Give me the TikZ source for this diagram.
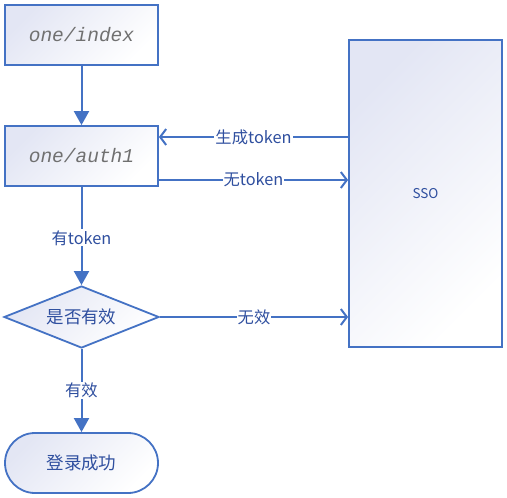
\documentclass[tikz,border=0pt]{standalone}
\usepackage{fontspec}
\newfontfamily\cjk{Noto Sans CJK SC}
\newfontfamily\monoit{Liberation Mono}
\usetikzlibrary{arrows.meta,shapes.geometric}
\definecolor{lineblue}{HTML}{4472C4}
\definecolor{textblue}{HTML}{2F4F9F}
\definecolor{shadetop}{HTML}{E3E6F4}
\definecolor{greytext}{HTML}{707070}
\tikzset{
  x=1pt,y=-1pt,
  boxshade/.style={top color=shadetop,bottom color=white,shading angle=45,draw=lineblue,line width=1.8pt},
  procbox/.style={boxshade,rectangle,minimum width=153pt,minimum height=60pt,inner sep=0pt},
  pathtext/.style={font=\monoit\itshape\fontsize{19.5}{21}\selectfont,text=greytext},
  cjktext/.style={font=\cjk\fontsize{17.5}{19}\selectfont,text=textblue},
  lbl/.style={font=\cjk\fontsize{16.3}{18}\selectfont,text=textblue,fill=white,inner sep=1pt},
  conn/.style={draw=lineblue,line width=2pt},
  filledarrow/.style={conn,-{Triangle[length=14pt,width=15pt]}},
  openarrow/.style={conn,-{Straight Barb[length=6pt,width=16pt,line width=2pt]}},
}
\begin{document}
\begin{tikzpicture}
\useasboundingbox (0,0) rectangle (507,498);
\node[procbox,pathtext] (index) at (81.5,35) {one/index};
\node[procbox,pathtext] (auth) at (81.5,156) {one/auth1};
\node[boxshade,diamond,aspect=2.5,minimum width=155pt,minimum height=62pt,inner sep=0pt,cjktext] (valid) at (81.5,317) {是否有效};
\node[boxshade,rectangle,rounded corners=30pt,minimum width=153pt,minimum height=60pt,inner sep=0pt,cjktext] (ok) at (81.5,463) {登录成功};
\node[boxshade,rectangle,minimum width=153pt,minimum height=307pt,inner sep=0pt,font=\cjk\fontsize{13.5}{15}\selectfont,text=textblue] (sso) at (425.5,193.5) {SSO};

\coordinate (genY) at (0,137);
\coordinate (noY) at (0,180);

\draw[filledarrow] (index) -- (auth);
\draw[openarrow] (sso.west |- genY) -- node[lbl] {生成token} (auth.east |- genY);
\draw[openarrow] (auth.east |- noY) -- node[lbl] {无token} (sso.west |- noY);
\draw[filledarrow] (auth) -- node[lbl,pos=0.52] {有token} (valid);
\draw[openarrow] (valid.east) -- node[lbl] {无效} (sso.west |- valid.east);
\draw[filledarrow] (valid) -- node[lbl,pos=0.5] {有效} (ok);
\end{tikzpicture}
\end{document}
